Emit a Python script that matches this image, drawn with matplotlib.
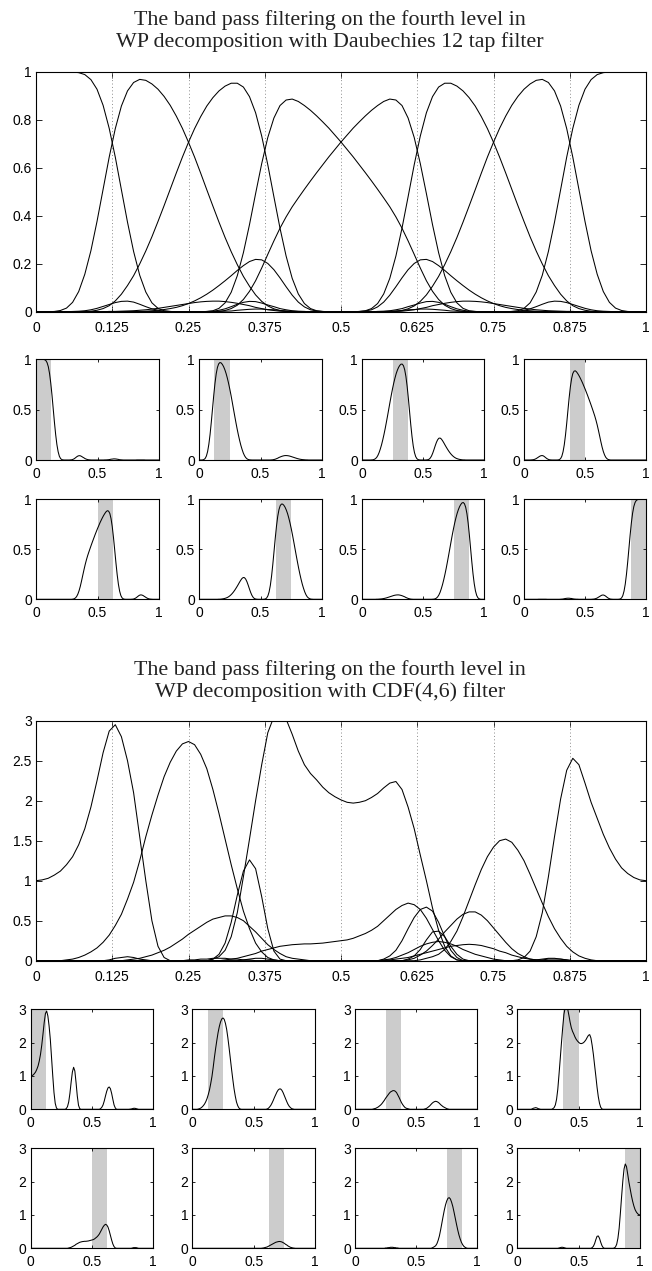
import numpy as np
import matplotlib
matplotlib.use('Agg')
import matplotlib.pyplot as plt

plt.rcParams['font.family'] = ['Liberation Sans', 'DejaVu Sans']

# normalised frequency grid shared by all curves (step 0.01)
freq = np.linspace(0, 1, 101)

# Daubechies 12 tap: bands 0..3, bands 4..7 are their mirror images
db_band0 = [1.000, 1.000, 1.000, 1.000, 1.000, 1.000, 0.999, 0.996, 0.988, 0.967,
            0.927, 0.860, 0.764, 0.644, 0.508, 0.373, 0.251, 0.152, 0.082, 0.037,
            0.014, 0.004, 0.001, 0, 0, 0, 0, 0, 0.001, 0.002,
            0.006, 0.012, 0.021, 0.031, 0.039, 0.043, 0.042, 0.036, 0.028, 0.021,
            0.013, 0.008, 0.004, 0.002, 0.001, 0, 0, 0, 0, 0,
            0, 0, 0, 0, 0, 0, 0.001, 0.001, 0.002, 0.003,
            0.005, 0.008, 0.009, 0.011, 0.011, 0.010, 0.008, 0.006, 0.003, 0.002,
            0.001, 0, 0, 0, 0, 0, 0, 0, 0, 0,
            0, 0, 0.001, 0.001, 0.001, 0.001, 0.001, 0.001, 0.001, 0] + [0] * 11
db_band1 = [0, 0, 0, 0.001, 0.005, 0.015, 0.039, 0.084, 0.156, 0.254,
            0.376, 0.510, 0.644, 0.763, 0.857, 0.920, 0.955, 0.968, 0.964, 0.949,
            0.927, 0.897, 0.860, 0.815, 0.764, 0.706, 0.644, 0.577, 0.508, 0.440,
            0.373, 0.309, 0.250, 0.196, 0.147, 0.106, 0.070, 0.043, 0.024, 0.012,
            0.005, 0.002, 0.001, 0, 0, 0, 0, 0, 0, 0,
            0, 0, 0, 0, 0, 0, 0, 0, 0, 0.001,
            0.002, 0.005, 0.008, 0.013, 0.018, 0.025, 0.030, 0.035, 0.039, 0.042,
            0.044, 0.044, 0.043, 0.041, 0.038, 0.034, 0.030, 0.026, 0.022, 0.018,
            0.014, 0.011, 0.008, 0.006, 0.004, 0.003, 0.002, 0.001, 0.001, 0] + [0] * 11
db_band2 = [0, 0, 0, 0, 0, 0, 0, 0, 0.001, 0.002,
            0.006, 0.013, 0.025, 0.045, 0.073, 0.109, 0.150, 0.199, 0.253, 0.312,
            0.376, 0.442, 0.510, 0.578, 0.644, 0.706, 0.763, 0.813, 0.857, 0.892,
            0.920, 0.940, 0.952, 0.952, 0.936, 0.896, 0.829, 0.732, 0.612, 0.479,
            0.348, 0.232, 0.139, 0.074, 0.034, 0.013, 0.004, 0.001, 0, 0,
            0, 0, 0, 0.001, 0.003, 0.008, 0.020, 0.040, 0.069, 0.104,
            0.141, 0.175, 0.201, 0.216, 0.218, 0.209, 0.192, 0.172, 0.150, 0.129,
            0.109, 0.090, 0.073, 0.058, 0.045, 0.034, 0.025, 0.018, 0.013, 0.009,
            0.006, 0.004, 0.002, 0.001, 0.001, 0, 0, 0, 0, 0] + [0] * 11
db_band3 = [0, 0, 0, 0, 0, 0, 0.001, 0.002, 0.004, 0.008,
            0.014, 0.022, 0.030, 0.038, 0.043, 0.044, 0.040, 0.031, 0.021, 0.012,
            0.006, 0.002, 0.001, 0, 0, 0, 0, 0, 0.001, 0.004,
            0.014, 0.037, 0.081, 0.150, 0.246, 0.363, 0.492, 0.617, 0.726, 0.807,
            0.859, 0.882, 0.886, 0.876, 0.859, 0.839, 0.816, 0.791, 0.765, 0.736,
            0.707, 0.676, 0.645, 0.612, 0.579, 0.545, 0.510, 0.474, 0.437, 0.395,
            0.348, 0.295, 0.239, 0.182, 0.129, 0.085, 0.051, 0.027, 0.013, 0.005,
            0.002] + [0] * 30

# CDF(4,6)
cdf_band0 = [1.00, 1.01, 1.03, 1.07, 1.12, 1.20, 1.30, 1.45, 1.65, 1.92,
             2.25, 2.60, 2.87, 2.95, 2.80, 2.50, 2.10, 1.55, 1.00, 0.50,
             0.18, 0.04, 0, 0, 0, 0, 0, 0, 0, 0.02,
             0.08, 0.22, 0.48, 0.82, 1.12, 1.26, 1.15, 0.80, 0.40, 0.12,
             0.02, 0, 0, 0, 0, 0, 0, 0, 0, 0,
             0, 0, 0, 0, 0, 0, 0, 0.02, 0.06, 0.13,
             0.25, 0.40, 0.54, 0.64, 0.67, 0.62, 0.48, 0.30, 0.13, 0.04,
             0, 0, 0, 0, 0, 0, 0, 0, 0, 0,
             0, 0.005, 0.01, 0.02, 0.03, 0.03, 0.02, 0.01, 0, 0] + [0] * 11
cdf_band1 = [0, 0, 0, 0, 0, 0.01, 0.02, 0.04, 0.07, 0.11,
             0.16, 0.23, 0.32, 0.44, 0.58, 0.77, 0.98, 1.25, 1.55, 1.82,
             2.07, 2.30, 2.48, 2.62, 2.71, 2.74, 2.70, 2.58, 2.40, 2.14,
             1.84, 1.52, 1.20, 0.90, 0.62, 0.40, 0.22, 0.11, 0.04, 0.01] + [0] * 20 + \
            [0, 0.01, 0.03, 0.07, 0.12, 0.19, 0.27, 0.36, 0.44, 0.52,
             0.58, 0.61, 0.61, 0.57, 0.50, 0.41, 0.32, 0.23, 0.15, 0.09,
             0.05, 0.02, 0.01] + [0] * 18
cdf_band2 = [0] * 15 + \
            [0.01, 0.02, 0.03, 0.05, 0.07,
             0.10, 0.13, 0.17, 0.22, 0.27, 0.33, 0.38, 0.43, 0.48, 0.52,
             0.54, 0.56, 0.56, 0.54, 0.50, 0.43, 0.36, 0.28, 0.20, 0.14,
             0.09, 0.05, 0.03, 0.02, 0.01] + [0] * 12 + \
            [0.01, 0.02, 0.04,
             0.07, 0.10, 0.14, 0.18, 0.21, 0.23, 0.24, 0.23, 0.21, 0.18,
             0.14, 0.11, 0.08, 0.06, 0.04, 0.02, 0.01] + [0] * 24
cdf_band3 = [0] * 12 + \
            [0.01, 0.03, 0.04, 0.05, 0.04, 0.02, 0.01] + [0] * 10 + \
            [0.02,
             0.05, 0.13, 0.30, 0.60, 1.05, 1.52, 2.00, 2.45, 2.85, 3.05,
             3.10, 3.02, 2.83, 2.62, 2.45, 2.34, 2.26, 2.17, 2.10, 2.05,
             2.01, 1.98, 1.97, 1.98, 2.00, 2.04, 2.09, 2.16, 2.22, 2.24,
             2.14, 1.92, 1.65, 1.32, 1.00, 0.66, 0.38, 0.18, 0.06, 0.01] + [0] * 31
cdf_band4 = [0] * 31 + \
            [0.01, 0.02, 0.03, 0.05, 0.07, 0.09, 0.12, 0.14, 0.16,
             0.18, 0.19, 0.20, 0.205, 0.21, 0.21, 0.215, 0.22, 0.23, 0.24,
             0.25, 0.26, 0.28, 0.31, 0.34, 0.38, 0.43, 0.50, 0.57, 0.64,
             0.69, 0.72, 0.70, 0.64, 0.53, 0.39, 0.25, 0.13, 0.05, 0.01] + [0] * 13 + \
            [0.01, 0.02, 0.02, 0.02, 0.01] + [0] * 13
cdf_band5 = [0] * 57 + \
            [0.005, 0.01, 0.02,
             0.03, 0.04, 0.06, 0.08, 0.10, 0.12, 0.14, 0.16, 0.18, 0.19,
             0.20, 0.205, 0.20, 0.19, 0.17, 0.15, 0.12, 0.10, 0.07, 0.05,
             0.03, 0.02, 0.01, 0.005] + [0] * 17
cdf_band6 = [0] * 25 + \
            [0.01, 0.01, 0.02, 0.02, 0.03, 0.03, 0.03, 0.02, 0.02, 0.01, 0.01] + [0] * 27 + \
            [0.01, 0.03, 0.05, 0.08, 0.14, 0.24, 0.37,
             0.55, 0.75, 0.95, 1.14, 1.30, 1.42, 1.50, 1.52, 1.48, 1.38,
             1.25, 1.08, 0.90, 0.72, 0.55, 0.40, 0.28, 0.18, 0.11, 0.06,
             0.03, 0.01] + [0] * 9
cdf_band7 = [0] * 34 + \
            [0.01, 0.02, 0.03, 0.03, 0.02, 0.01] + [0] * 21 + \
            [0.02, 0.06, 0.14, 0.26, 0.36, 0.37, 0.30, 0.18, 0.08, 0.02] + [0] * 8 + \
            [0.01, 0.04, 0.12, 0.30, 0.60, 1.05, 1.55, 2.02, 2.38, 2.53, 2.45,
             2.22, 1.98, 1.78, 1.58, 1.41, 1.27, 1.16, 1.09, 1.04, 1.01, 1.00]

db_bands = [db_band0, db_band1, db_band2, db_band3,
            db_band3[::-1], db_band2[::-1], db_band1[::-1], db_band0[::-1]]
cdf_bands = [cdf_band0, cdf_band1, cdf_band2, cdf_band3,
             cdf_band4, cdf_band5, cdf_band6, cdf_band7]

band_edges = [0, 0.125, 0.25, 0.375, 0.5, 0.625, 0.75, 0.875, 1]
big_xlabels = ['0', '0.125', '0.25', '0.375', '0.5', '0.625', '0.75', '0.875', '1']

db_title = ['The band pass filtering on the fourth level in',
            'WP decomposition with Daubechies 12 tap filter']
cdf_title = ['The band pass filtering on the fourth level in',
             'WP decomposition with CDF(4,6) filter']

W, H = 652, 1271
fig = plt.figure(figsize=(W / 100, H / 100), dpi=100)


def px_axes(x0, y0, x1, y1):
    return fig.add_axes([x0 / W, 1 - y1 / H, (x1 - x0) / W, (y1 - y0) / H])


def style(ax, ticklen, xpad, ypad):
    ax.tick_params(direction='in', top=True, right=True, length=ticklen,
                   width=0.6, labelsize=10)
    ax.tick_params(axis='x', pad=xpad)
    ax.tick_params(axis='y', pad=ypad)
    for s in ax.spines.values():
        s.set_linewidth(0.8)


def section(bands, title, baselines, big_box, small_x, small_rows,
            ymax, big_yticks, big_ylabels, small_yticks):
    for line, yb in zip(title, baselines):
        fig.text(330 / W, 1 - yb / H, line, ha='center', va='baseline',
                 family=['Liberation Serif', 'DejaVu Serif'], fontsize=15.8,
                 color='#222222')

    ax = px_axes(*big_box)
    for xv in band_edges[1:-1]:
        ax.axvline(xv, color='0.55', lw=0.7, ls=(0, (1, 2.5)))
    for b in bands:
        ax.plot(freq, b, color='black', lw=0.75)
    ax.set_xlim(0, 1)
    ax.set_ylim(0, ymax)
    ax.set_xticks(band_edges)
    ax.set_xticklabels(big_xlabels)
    ax.set_yticks(big_yticks)
    ax.set_yticklabels(big_ylabels)
    style(ax, 4, 7, 3)

    for k, b in enumerate(bands):
        r, c = divmod(k, 4)
        y0, y1 = small_rows[r]
        x0, x1 = small_x[c]
        sa = px_axes(x0, y0, x1, y1)
        sa.axvspan(band_edges[k], band_edges[k + 1], color='#cccccc', lw=0)
        sa.plot(freq, b, color='black', lw=0.75)
        sa.set_xlim(0, 1)
        sa.set_ylim(0, ymax)
        sa.set_xticks([0, 0.5, 1])
        sa.set_xticklabels(['0', '0.5', '1'])
        sa.set_yticks(small_yticks)
        sa.set_yticklabels(['%g' % v for v in small_yticks])
        style(sa, 2.5, 5, 3)


section(db_bands, db_title, [25, 47.3], (36, 71.7, 646, 311.7),
        [(36, 159), (199, 322), (362, 484), (524, 646)],
        [(359.3, 460), (499.3, 599.3)],
        1, [0, 0.2, 0.4, 0.6, 0.8, 1], ['0', '0.2', '0.4', '0.6', '0.8', '1'],
        [0, 0.5, 1])

section(cdf_bands, cdf_title, [675, 697.5], (36, 720.7, 646, 960.7),
        [(30.7, 153.3), (192.3, 315), (355, 477.3), (517.3, 640)],
        [(1009.3, 1109.3), (1148.3, 1248.3)],
        3, [0, 0.5, 1, 1.5, 2, 2.5, 3], ['0', '0.5', '1', '1.5', '2', '2.5', '3'],
        [0, 1, 2, 3])

fig.savefig('out.png', dpi=100)
